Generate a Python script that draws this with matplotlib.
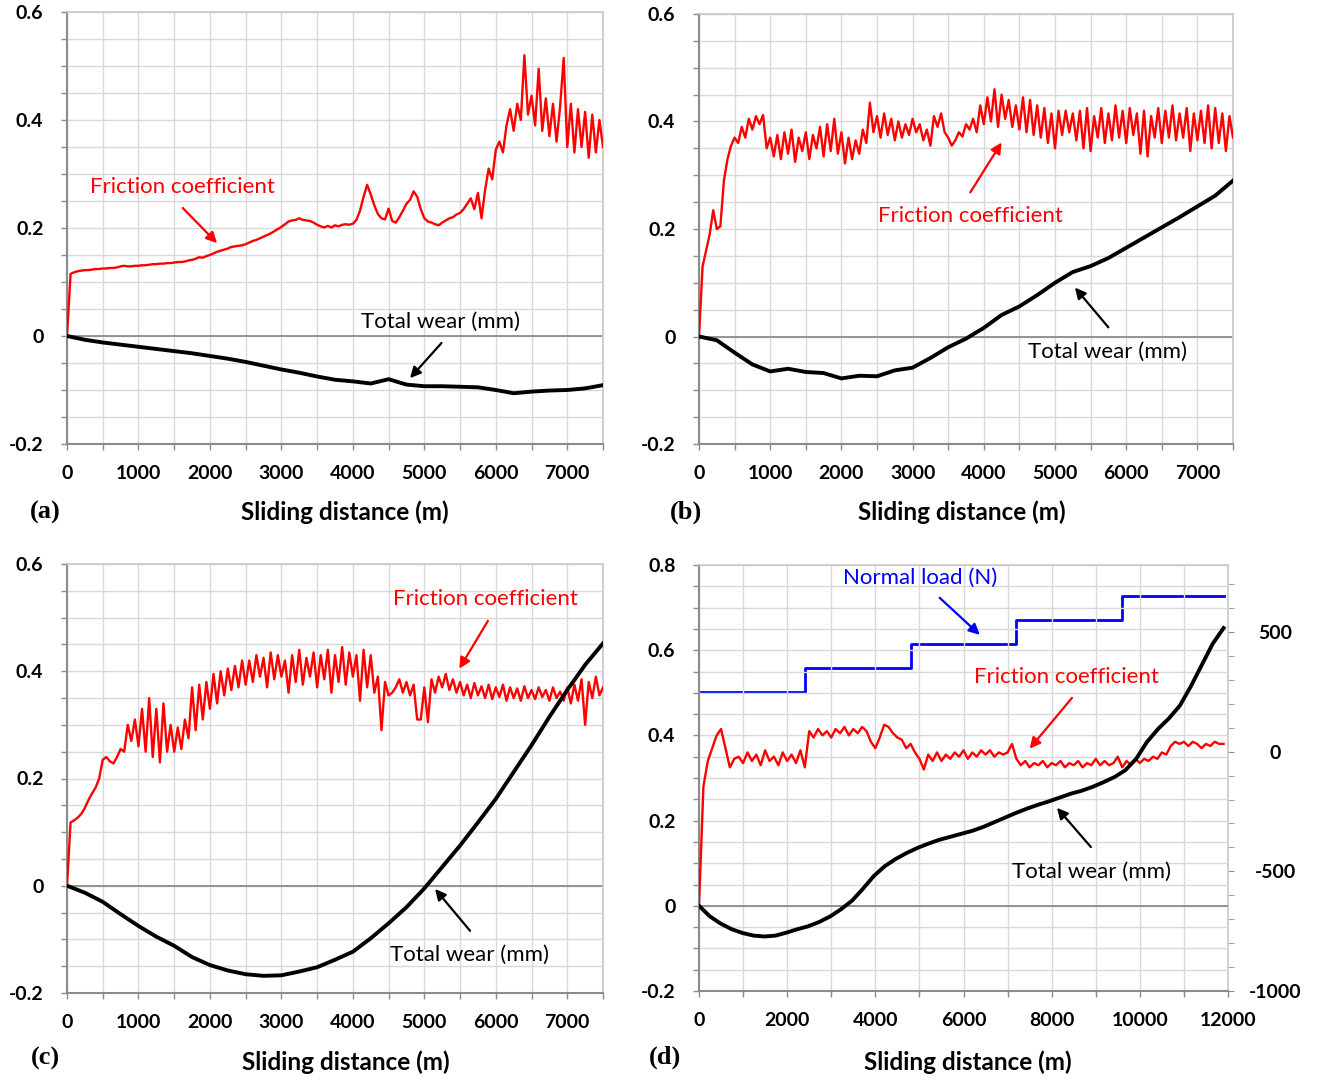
import numpy as np
import matplotlib.pyplot as plt
from matplotlib.ticker import MultipleLocator, FixedLocator, FixedFormatter

W, H = 1322, 1082

# ---- data ----
# friction coefficient, sampled every 50 m (panels a-c) / 100 m (panel d)
fric_a = [0.0, 0.115, 0.118, 0.12, 0.121, 0.122, 0.122, 0.123, 0.124, 0.124,
          0.125, 0.125, 0.126, 0.126, 0.127, 0.129, 0.13, 0.129, 0.129, 0.13,
          0.13, 0.131, 0.131, 0.132, 0.133, 0.133, 0.134, 0.134, 0.135, 0.135,
          0.136, 0.137, 0.137, 0.138, 0.14, 0.141, 0.143, 0.146, 0.145, 0.148,
          0.15, 0.153, 0.156, 0.158, 0.16, 0.162, 0.165, 0.166, 0.167, 0.168,
          0.17, 0.173, 0.176, 0.178, 0.181, 0.184, 0.187, 0.19, 0.194, 0.198,
          0.202, 0.207, 0.212, 0.214, 0.215, 0.218, 0.215, 0.214, 0.213, 0.21,
          0.206, 0.203, 0.201, 0.204, 0.201, 0.205, 0.203, 0.206, 0.207, 0.206,
          0.208, 0.215, 0.232, 0.258, 0.28, 0.262, 0.242, 0.226, 0.218, 0.216,
          0.236, 0.213, 0.21, 0.22, 0.232, 0.245, 0.252, 0.268, 0.258, 0.235,
          0.218, 0.212, 0.21, 0.207, 0.205, 0.21, 0.214, 0.218, 0.22, 0.225,
          0.228, 0.235, 0.245, 0.255, 0.235, 0.265, 0.218, 0.27, 0.31, 0.29,
          0.345, 0.36, 0.34, 0.39, 0.42, 0.38, 0.43, 0.4, 0.52, 0.41,
          0.445, 0.39, 0.495, 0.38, 0.44, 0.37, 0.43, 0.36, 0.425, 0.515,
          0.35, 0.43, 0.34, 0.42, 0.35, 0.415, 0.33, 0.41, 0.34, 0.4,
          0.35]

fric_b = [0.0, 0.13, 0.16, 0.19, 0.235, 0.2, 0.205, 0.29, 0.33, 0.355,
          0.37, 0.36, 0.39, 0.37, 0.405, 0.385, 0.41, 0.395, 0.412, 0.35,
          0.37, 0.335, 0.375, 0.33, 0.38, 0.34, 0.385, 0.325, 0.37, 0.345,
          0.38, 0.33, 0.375, 0.35, 0.39, 0.335, 0.395, 0.345, 0.405, 0.34,
          0.38, 0.322, 0.37, 0.33, 0.365, 0.34, 0.385, 0.36, 0.435, 0.38,
          0.41, 0.37, 0.415, 0.375, 0.405, 0.365, 0.4, 0.37, 0.395, 0.375,
          0.405, 0.38, 0.395, 0.365, 0.385, 0.355, 0.41, 0.39, 0.415, 0.38,
          0.37, 0.355, 0.365, 0.38, 0.372, 0.395, 0.385, 0.405, 0.38, 0.43,
          0.395, 0.445, 0.4, 0.46, 0.39, 0.45, 0.405, 0.44, 0.39, 0.43,
          0.385, 0.445, 0.38, 0.44, 0.375, 0.43, 0.37, 0.425, 0.36, 0.415,
          0.35, 0.42, 0.375, 0.42, 0.38, 0.415, 0.365, 0.42, 0.35, 0.425,
          0.345, 0.41, 0.37, 0.425, 0.36, 0.415, 0.365, 0.43, 0.37, 0.42,
          0.36, 0.425, 0.375, 0.415, 0.34, 0.42, 0.335, 0.41, 0.37, 0.425,
          0.36, 0.42, 0.37, 0.43, 0.365, 0.415, 0.37, 0.425, 0.345, 0.415,
          0.365, 0.42, 0.36, 0.43, 0.35, 0.425, 0.36, 0.415, 0.345, 0.41,
          0.37]

fric_c = [0.0, 0.118, 0.122, 0.127, 0.134, 0.145, 0.16, 0.172, 0.183, 0.2,
          0.235, 0.24, 0.232, 0.228, 0.24, 0.255, 0.25, 0.3, 0.27, 0.31,
          0.26, 0.33, 0.25, 0.35, 0.24, 0.33, 0.23, 0.34, 0.25, 0.3,
          0.25, 0.295, 0.255, 0.31, 0.275, 0.37, 0.29, 0.375, 0.31, 0.38,
          0.33, 0.395, 0.34, 0.4, 0.355, 0.405, 0.365, 0.41, 0.37, 0.42,
          0.375, 0.42, 0.38, 0.43, 0.39, 0.425, 0.37, 0.435, 0.385, 0.43,
          0.39, 0.42, 0.36, 0.43, 0.38, 0.44, 0.375, 0.425, 0.39, 0.435,
          0.37, 0.43, 0.385, 0.44, 0.36, 0.43, 0.38, 0.445, 0.375, 0.435,
          0.39, 0.43, 0.345, 0.44, 0.37, 0.43, 0.36, 0.39, 0.29, 0.38,
          0.355, 0.36, 0.37, 0.385, 0.36, 0.38, 0.355, 0.375, 0.31, 0.31,
          0.37, 0.305, 0.385, 0.36, 0.39, 0.37, 0.395, 0.365, 0.385, 0.36,
          0.38, 0.355, 0.375, 0.35, 0.378, 0.355, 0.372, 0.35, 0.375, 0.348,
          0.37, 0.352, 0.375, 0.345, 0.37, 0.35, 0.368, 0.345, 0.372, 0.35,
          0.365, 0.348, 0.37, 0.352, 0.365, 0.345, 0.37, 0.35, 0.362, 0.345,
          0.37, 0.34, 0.375, 0.345, 0.385, 0.3, 0.38, 0.35, 0.39, 0.355,
          0.37]

fric_d = [0.0, 0.28, 0.34, 0.37, 0.4, 0.415, 0.37, 0.325, 0.345, 0.35,
          0.335, 0.36, 0.34, 0.355, 0.33, 0.365, 0.34, 0.35, 0.33, 0.36,
          0.34, 0.355, 0.335, 0.365, 0.325, 0.41, 0.395, 0.415, 0.4, 0.41,
          0.395, 0.415, 0.405, 0.42, 0.4, 0.415, 0.405, 0.42, 0.41, 0.385,
          0.37, 0.395, 0.425, 0.42, 0.405, 0.395, 0.39, 0.37, 0.38, 0.36,
          0.345, 0.32, 0.355, 0.34, 0.36, 0.34, 0.355, 0.345, 0.36, 0.35,
          0.365, 0.345, 0.36, 0.35, 0.365, 0.355, 0.365, 0.35, 0.36, 0.355,
          0.36, 0.38, 0.345, 0.33, 0.34, 0.325, 0.335, 0.33, 0.34, 0.325,
          0.335, 0.33, 0.34, 0.325, 0.335, 0.33, 0.34, 0.325, 0.335, 0.33,
          0.345, 0.33, 0.34, 0.33, 0.335, 0.35, 0.325, 0.34, 0.33, 0.345,
          0.335, 0.345, 0.34, 0.35, 0.345, 0.36, 0.355, 0.375, 0.385, 0.38,
          0.385, 0.375, 0.385, 0.38, 0.37, 0.38, 0.375, 0.385, 0.38, 0.38]

# total wear (mm), sampled every 250 m
wear_a = [0.0, -0.007, -0.012, -0.016, -0.02, -0.024, -0.028, -0.032, -0.037, -0.042,
          -0.048, -0.055, -0.062, -0.068, -0.075, -0.081, -0.084, -0.088, -0.08, -0.09,
          -0.093, -0.093, -0.094, -0.095, -0.1, -0.106, -0.103, -0.101, -0.1, -0.097,
          -0.091]
wear_b = [0.0, -0.007, -0.03, -0.052, -0.065, -0.06, -0.066, -0.068, -0.078, -0.073,
          -0.074, -0.063, -0.058, -0.04, -0.02, -0.004, 0.016, 0.04, 0.056, 0.077,
          0.1, 0.12, 0.131, 0.146, 0.165, 0.184, 0.203, 0.222, 0.242, 0.262,
          0.29]
wear_c = [0.0, -0.013, -0.03, -0.053, -0.075, -0.095, -0.112, -0.133, -0.148, -0.158,
          -0.165, -0.168, -0.167, -0.16, -0.152, -0.138, -0.123, -0.098, -0.07, -0.04,
          -0.005, 0.035, 0.075, 0.118, 0.162, 0.212, 0.262, 0.315, 0.365, 0.412,
          0.452]
wear_d = [0.0, -0.025, -0.042, -0.055, -0.064, -0.07, -0.072, -0.07, -0.063, -0.055,
          -0.048, -0.038, -0.025, -0.008, 0.012, 0.04, 0.07, 0.093, 0.11, 0.124,
          0.136, 0.146, 0.155, 0.162, 0.169, 0.176, 0.185, 0.196, 0.207, 0.218,
          0.228, 0.237, 0.245, 0.254, 0.263, 0.27, 0.279, 0.29, 0.302, 0.318,
          0.345, 0.385, 0.415, 0.44, 0.47, 0.515, 0.565, 0.615, 0.652]

# normal load steps, panel d (right axis)
load_dist = [0, 2400, 4800, 7200, 9600, 11900]
load_n = [250, 350, 450, 550, 650, 650]

y_labels = ['-0.2', '0', '0.2', '0.4', '0.6']
y_labels_d = ['-0.2', '0', '0.2', '0.4', '0.6', '0.8']
load_labels = ['-1000', '-500', '0', '500']

plt.rcParams['font.family'] = ['Lato', 'DejaVu Sans']

RED, BLUE = '#ff0000', '#0000ff'
GRID = '#d9d9d9'
SPINE = '#8c8c8c'

fig = plt.figure(figsize=(W / 100, H / 100), dpi=100)


def px_axes(left, top, right, bottom):
    return fig.add_axes([left / W, 1 - bottom / H, (right - left) / W, (bottom - top) / H])


def style(ax, xmax, xmaj, xmin, ymax, ylabs):
    ax.set_xlim(0, xmax)
    ax.set_ylim(-0.2, ymax)
    ax.xaxis.set_major_locator(MultipleLocator(xmaj))
    ax.xaxis.set_minor_locator(MultipleLocator(xmin))
    ax.yaxis.set_major_locator(FixedLocator(np.arange(len(ylabs)) * 0.2 - 0.2))
    ax.yaxis.set_major_formatter(FixedFormatter(ylabs))
    ax.yaxis.set_minor_locator(MultipleLocator(0.05))
    ax.xaxis.set_major_formatter(lambda v, p: '%d' % v if v < xmax else '')
    ax.grid(True, which='both', color=GRID, lw=1.0, zorder=0)
    ax.set_axisbelow(True)
    ax.tick_params(which='both', direction='out', length=4, width=1, color=SPINE)
    ax.tick_params(axis='x', which='both', pad=11, labelsize=14)
    ax.tick_params(axis='y', which='both', pad=13, labelsize=14)
    for lab in ax.get_xticklabels() + ax.get_yticklabels():
        lab.set_fontweight('bold')
    for s in ['left', 'bottom']:
        ax.spines[s].set_color(SPINE)
        ax.spines[s].set_linewidth(1.5)
    for s in ['top', 'right']:
        ax.spines[s].set_color('#c8c8c8')
        ax.spines[s].set_linewidth(1.2)
    ax.axhline(0, color=SPINE, lw=1.3, zorder=1)


def note(ax, text, pos, start, end, color):
    ax.text(pos[0], pos[1], text, color=color, fontsize=16, ha='center', va='center', zorder=6)
    ax.annotate('', xy=end, xytext=start, zorder=6,
                arrowprops=dict(arrowstyle='-|>', color=color, lw=1.6, mutation_scale=16,
                                shrinkA=0, shrinkB=0))


panels = [
    ('a', px_axes(67, 12, 603, 444), fric_a, wear_a),
    ('b', px_axes(699, 14, 1233, 444), fric_b, wear_b),
    ('c', px_axes(67, 564, 603, 993), fric_c, wear_c),
]
for name, ax, fr, wr in panels:
    style(ax, 7500, 1000, 500, 0.6, y_labels)
    ax.plot(np.linspace(0, 7500, len(fr)), fr, color=RED, lw=1.7, zorder=3)
    ax.plot(np.linspace(0, 7500, len(wr)), wr, color='black', lw=2.8, zorder=4)

ax_a, ax_b, ax_c = panels[0][1], panels[1][1], panels[2][1]
note(ax_a, 'Friction coefficient', (1610, 0.276), (1620, 0.237), (2100, 0.172), RED)
note(ax_a, 'Total wear (mm)', (5220, 0.026), (5240, -0.013), (4800, -0.078), 'black')
note(ax_b, 'Friction coefficient', (3810, 0.225), (3810, 0.268), (4250, 0.361), RED)
note(ax_b, 'Total wear (mm)', (5740, -0.028), (5750, 0.017), (5280, 0.091), 'black')
note(ax_c, 'Friction coefficient', (5860, 0.535), (5890, 0.494), (5490, 0.405), RED)
note(ax_c, 'Total wear (mm)', (5630, -0.129), (5640, -0.084), (5150, -0.006), 'black')

# panel d with the normal-load axis on the right
ax_d = px_axes(699, 565, 1228, 991)
style(ax_d, 12000, 2000, 1000, 0.8, y_labels_d)
ax_d.xaxis.set_major_formatter(lambda v, p: '%d' % v)
ax_d.spines['right'].set_visible(False)
ax_d.plot(np.linspace(0, 11900, len(fric_d)), fric_d, color=RED, lw=1.7, zorder=3)
ax_d.plot(np.linspace(0, 11900, len(wear_d)), wear_d, color='black', lw=2.8, zorder=4)

ax2 = ax_d.twinx()
ax2.set_ylim(-1000, 780)
ax2.yaxis.set_major_locator(FixedLocator([-1000, -500, 0, 500]))
ax2.yaxis.set_major_formatter(FixedFormatter(load_labels))
ax2.yaxis.set_minor_locator(MultipleLocator(100))
ax2.tick_params(which='both', direction='out', length=4, color=SPINE)
ax2.tick_params(axis='y', pad=30, labelsize=14)
for lab in ax2.get_yticklabels():
    lab.set_fontweight('bold')
    lab.set_horizontalalignment('center')
for s in ['left', 'bottom', 'top']:
    ax2.spines[s].set_visible(False)
ax2.spines['right'].set_color('#c8c8c8')
ax2.spines['right'].set_linewidth(1.2)
ax2.plot(load_dist, load_n, drawstyle='steps-post', color=BLUE, lw=2.0, zorder=3)

note(ax_d, 'Normal load (N)', (5010, 0.77), (5460, 0.723), (6370, 0.636), BLUE)
note(ax_d, 'Friction coefficient', (8345, 0.537), (8460, 0.488), (7500, 0.369), RED)
note(ax_d, 'Total wear (mm)', (8910, 0.08), (8890, 0.138), (8120, 0.23), 'black')
ax_d.set_zorder(ax2.get_zorder() + 1)
ax_d.patch.set_visible(False)

# panel letters and axis titles
for letter, lx, ly, tx, ty in [('(a)', 45, 512, 345, 512), ('(b)', 686, 512, 962, 512),
                               ('(c)', 45, 1058, 346, 1062), ('(d)', 665, 1057, 968, 1062)]:
    fig.text(lx / W, 1 - ly / H, letter, family='Liberation Serif', fontweight='bold',
             fontsize=19, ha='center', va='center')
    fig.text(tx / W, 1 - ty / H, 'Sliding distance (m)', fontweight='bold',
             fontsize=17.5, ha='center', va='center')

fig.savefig('out.png', dpi=100)
